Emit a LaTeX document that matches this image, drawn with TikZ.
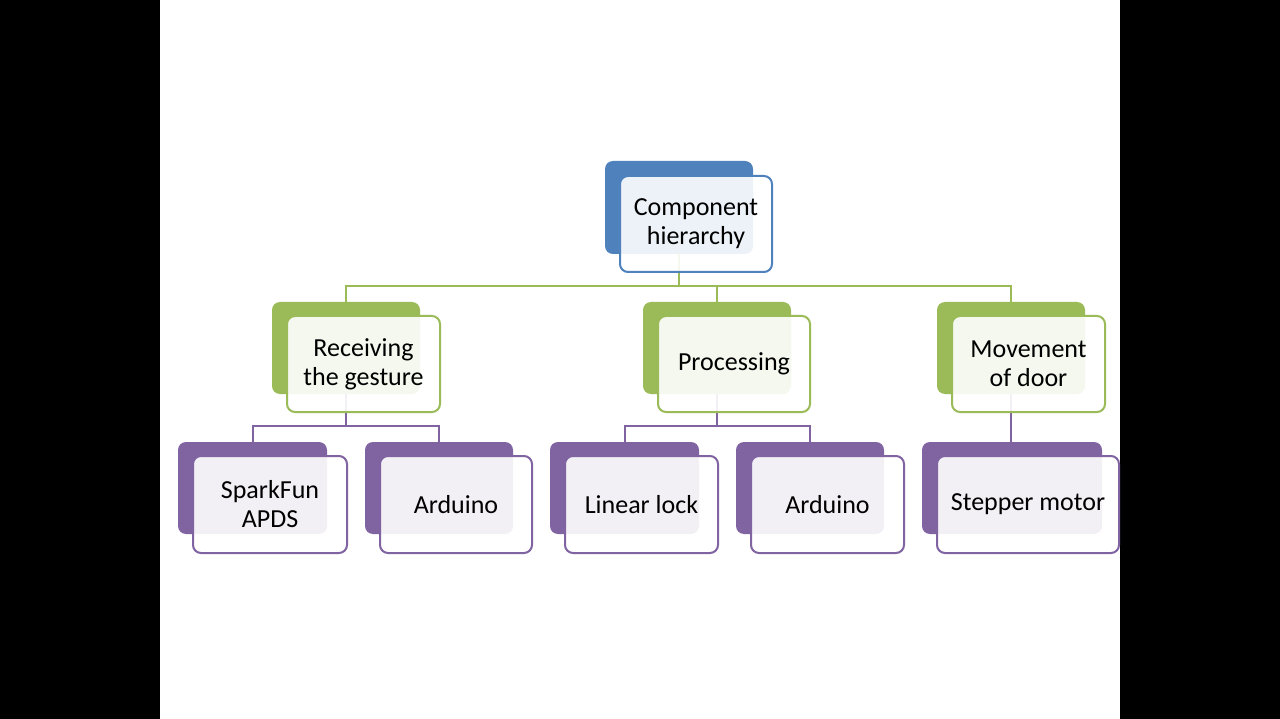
\documentclass[tikz,border=0pt]{standalone}
\usepackage{fontspec}
\setmainfont{Carlito}
\begin{document}
\begin{tikzpicture}[x=1pt,y=-1pt,
  backbox/.style={fill=#1, draw=none, rounded corners=8pt, anchor=north west, inner sep=0pt, outer sep=0pt},
  frontbox/.style={fill=white, fill opacity=0.9, text opacity=1, draw=#1, line width=2pt, rounded corners=8pt, anchor=north west, inner sep=0pt, outer sep=0pt, align=center, font=\fontsize{26}{29}\selectfont},
  conn/.style={draw=#1, line width=2pt}]
\definecolor{cblue}{HTML}{4F81BD}
\definecolor{cgreen}{HTML}{9BBB59}
\definecolor{cpurple}{HTML}{8064A2}
\useasboundingbox (0,0) rectangle (1280,719);
\fill[black] (0,0) rectangle (1280,719);
\fill[white] (160,0) rectangle (1120,719);
% back boxes
\node[backbox=cblue, minimum width=148pt, minimum height=93pt] (rootb) at (605,161) {};
\node[backbox=cgreen, minimum width=148pt, minimum height=92pt] (recb) at (272,302) {};
\node[backbox=cgreen, minimum width=148pt, minimum height=92pt] (prob) at (643,302) {};
\node[backbox=cgreen, minimum width=148pt, minimum height=92pt] (movb) at (937,302) {};
\node[backbox=cpurple, minimum width=149pt, minimum height=92pt] (spab) at (178,442) {};
\node[backbox=cpurple, minimum width=148pt, minimum height=92pt] (ar1b) at (365,442) {};
\node[backbox=cpurple, minimum width=149pt, minimum height=92pt] (linb) at (550,442) {};
\node[backbox=cpurple, minimum width=148pt, minimum height=92pt] (ar2b) at (736,442) {};
\node[backbox=cpurple, minimum width=180pt, minimum height=92pt] (steb) at (922,442) {};
% connectors
\coordinate (bus1) at (0,286);
\coordinate (bus2) at (0,426);
\foreach \c in {recb,prob,movb}
  \draw[conn=cgreen] (rootb.south) |- (\c.north |- bus1) -- (\c.north);
\foreach \c in {spab,ar1b}
  \draw[conn=cpurple] (recb.south) |- (\c.north |- bus2) -- (\c.north);
\foreach \c in {linb,ar2b}
  \draw[conn=cpurple] (prob.south) |- (\c.north |- bus2) -- (\c.north);
\draw[conn=cpurple] (movb.south) -- (steb.north -| movb.south);
% front boxes
\node[frontbox=cblue, minimum width=152pt, minimum height=96pt] (rootf) at (620,176) {Component\\hierarchy};
\node[frontbox=cgreen, minimum width=153pt, minimum height=96pt] (recf) at (287,316) {Receiving\\the gesture};
\node[frontbox=cgreen, minimum width=152pt, minimum height=96pt] (prof) at (658,316) {Processing};
\node[frontbox=cgreen, minimum width=153pt, minimum height=96pt] (movf) at (952,316) {Movement\\of door};
\node[frontbox=cpurple, minimum width=154pt, minimum height=97pt] (spaf) at (193,456) {SparkFun\\APDS};
\node[frontbox=cpurple, minimum width=152pt, minimum height=97pt] (ar1f) at (380,456) {Arduino};
\node[frontbox=cpurple, minimum width=153pt, minimum height=97pt] (linf) at (565,456) {Linear lock};
\node[frontbox=cpurple, minimum width=153pt, minimum height=97pt] (ar2f) at (751,456) {Arduino};
\node[frontbox=cpurple, minimum width=182pt, minimum height=97pt] (stef) at (937,456) {Stepper motor};
\end{tikzpicture}
\end{document}
